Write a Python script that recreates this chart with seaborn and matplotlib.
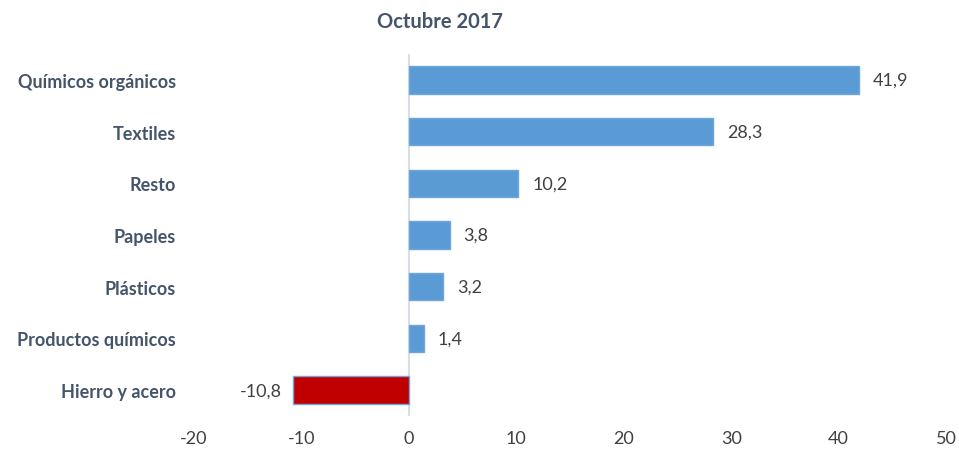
import matplotlib
matplotlib.use("Agg")
import matplotlib.pyplot as plt
import seaborn as sns
import pandas as pd

categories = ["Químicos orgánicos", "Textiles", "Resto", "Papeles", "Plásticos",
              "Productos químicos", "Hierro y acero"]
values = [41.9, 28.3, 10.2, 3.8, 3.2, 1.4, -10.8]
value_labels = ["41,9", "28,3", "10,2", "3,8", "3,2", "1,4", "-10,8"]
x_ticks = [-20, -10, 0, 10, 20, 30, 40, 50]
title = "Octubre 2017"

sns.set_theme(style="white")
plt.rcParams["font.family"] = ["Lato", "DejaVu Sans"]

df = pd.DataFrame({"cat": categories, "val": values})
df["sign"] = ["neg" if v < 0 else "pos" for v in values]

fig = plt.figure(figsize=(9.59, 4.52), dpi=100)
ax = fig.add_axes([194/959, 1-417/452, (946-194)/959, (417-55)/452])

sns.barplot(data=df, y="cat", x="val", hue="sign", orient="h",
            palette={"pos": "#5B9BD5", "neg": "#C00000"}, dodge=False,
            saturation=1, width=0.53, edgecolor="#6FA6DC", linewidth=1.0,
            legend=False, ax=ax)

ax.set_xlim(-20, 50)
ax.set_xticks(x_ticks)
ax.set_xticklabels([str(t) for t in x_ticks], fontsize=13, color="#404040")
ax.set_ylabel("")
ax.set_xlabel("")
ax.tick_params(axis="x", length=0, pad=10)
ax.tick_params(axis="y", length=0, pad=13)
for lbl in ax.get_yticklabels():
    lbl.set_fontweight("bold")
    lbl.set_fontsize(13)
    lbl.set_color("#44546A")
for s in ax.spines.values():
    s.set_visible(False)
ax.axvline(0, color="#D9DEE6", linewidth=1.5, zorder=0)
ax.grid(False)

for i, (v, t) in enumerate(zip(values, value_labels)):
    if v >= 0:
        ax.text(v + 1.3, i, t, va="center", ha="left", fontsize=13, color="#404040")
    else:
        ax.text(v - 1.0, i, t, va="center", ha="right", fontsize=13, color="#404040")

fig.text(440/959, 1-22/452, title, ha="center", va="center", fontsize=14.5,
         fontweight="bold", color="#44546A")

fig.savefig("out.png", dpi=100)
